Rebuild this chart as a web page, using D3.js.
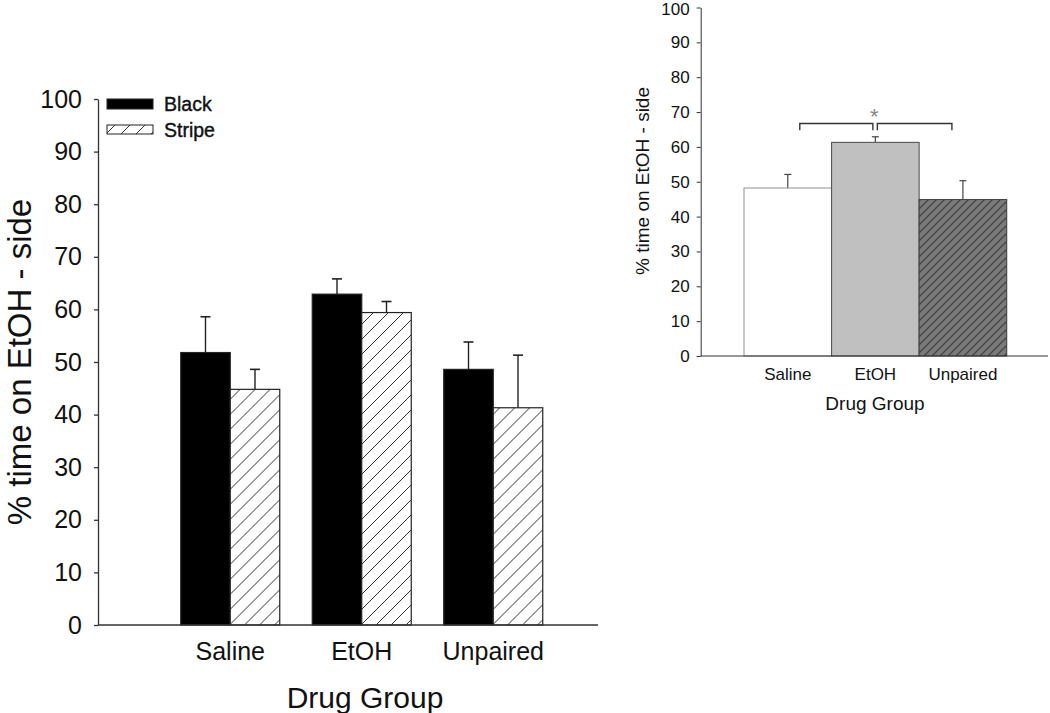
<!DOCTYPE html>
<html>
<head>
<meta charset="utf-8">
<script src="https://cdn.jsdelivr.net/npm/d3@7"></script>
<style>
  html, body { margin: 0; padding: 0; background: #fff; }
  svg { display: block; font-family: "Liberation Sans", Arial, sans-serif; }
</style>
</head>
<body>
<svg id="chart" width="1050" height="713"></svg>
<script>
// ---------- data ----------
const categories = ["Saline", "EtOH", "Unpaired"];
const seriesNames = ["Black", "Stripe"];
const blackMeans = [51.8, 62.9, 48.6];
const blackErr = [6.8, 2.9, 5.2];
const stripeMeans = [44.8, 59.4, 41.3];
const stripeErr = [3.8, 2.1, 10.0];
const yTicks = [0, 10, 20, 30, 40, 50, 60, 70, 80, 90, 100];

const insetMeans = [48.2, 61.3, 44.9];
const insetErr = [3.9, 1.6, 5.4];
const insetBrackets = [["Saline", "EtOH"], ["EtOH", "Unpaired"]];
const insetSigLabel = "*";

const yTitle = "% time on EtOH - side";
const xTitle = "Drug Group";

// ---------- setup ----------
const svg = d3.select("#chart");
const defs = svg.append("defs");

defs.append("pattern")
  .attr("id", "hatchLight").attr("patternUnits", "userSpaceOnUse")
  .attr("width", 15).attr("height", 15)
  .call(p => {
    p.append("rect").attr("width", 15).attr("height", 15).attr("fill", "#fff");
    p.append("path").attr("d", "M-2,17 L17,-2 M-2,2 L2,-2 M13,17 L17,13")
      .attr("stroke", "#333").attr("stroke-width", 1);
  });

defs.append("pattern")
  .attr("id", "hatchDark").attr("patternUnits", "userSpaceOnUse")
  .attr("width", 8).attr("height", 8)
  .call(p => {
    p.append("rect").attr("width", 8).attr("height", 8).attr("fill", "#7a7a7a");
    p.append("path").attr("d", "M-1,9 L9,-1 M-1,1 L1,-1 M7,9 L9,7")
      .attr("stroke", "#444").attr("stroke-width", 1.3);
  });

// ---------- main chart ----------
const main = svg.append("g");
const axisX0 = 98, axisX1 = 598;
const y = d3.scaleLinear().domain([0, 100]).range([625, 99]);
const x0 = d3.scaleBand().domain(categories).range([164.5, 559]).padding(0);
const bw = 49.5;
const x1 = d3.scaleBand().domain(seriesNames)
  .range([x0.bandwidth() / 2 - bw, x0.bandwidth() / 2 + bw]).padding(0);

const rows = categories.map((c, i) => ({
  cat: c,
  vals: [
    { s: "Black", v: blackMeans[i], e: blackErr[i] },
    { s: "Stripe", v: stripeMeans[i], e: stripeErr[i] }
  ]
}));

// y axis
const yAxis = main.append("g").attr("transform", `translate(${axisX0},0)`)
  .call(d3.axisLeft(y).tickValues(yTicks).tickSize(4).tickPadding(12).tickSizeOuter(0));
yAxis.select(".domain").attr("stroke", "#333").attr("stroke-width", 1.3);
yAxis.selectAll(".tick line").attr("stroke", "#333").attr("stroke-width", 1.3);
yAxis.selectAll(".tick text").attr("font-size", 25).attr("fill", "#111")
  .attr("font-family", "Liberation Sans, Arial, sans-serif");

// error bars (behind)
const grp = main.selectAll(".grp").data(rows).join("g")
  .attr("transform", d => `translate(${x0(d.cat)},0)`);

grp.selectAll(".err").data(d => d.vals).join("g").each(function(d) {
  const g = d3.select(this);
  const cx = x1(d.s) + x1.bandwidth() / 2;
  g.append("line").attr("x1", cx).attr("x2", cx)
    .attr("y1", y(d.v)).attr("y2", y(d.v + d.e))
    .attr("stroke", "#222").attr("stroke-width", 1.4);
  g.append("line").attr("x1", cx - 5).attr("x2", cx + 5)
    .attr("y1", y(d.v + d.e)).attr("y2", y(d.v + d.e))
    .attr("stroke", "#222").attr("stroke-width", 1.6);
});

grp.selectAll("rect.bar").data(d => d.vals).join("rect")
  .attr("class", "bar")
  .attr("x", d => x1(d.s))
  .attr("width", x1.bandwidth())
  .attr("y", d => y(d.v))
  .attr("height", d => y(0) - y(d.v))
  .attr("fill", d => d.s === "Black" ? "#000" : "url(#hatchLight)")
  .attr("stroke", "#222").attr("stroke-width", 1.2);

// x axis line
main.append("line").attr("x1", axisX0).attr("x2", axisX1)
  .attr("y1", y(0)).attr("y2", y(0))
  .attr("stroke", "#333").attr("stroke-width", 1.3);

// x tick labels
const xAxisG = main.append("g").attr("transform", `translate(0,${y(0)})`)
  .call(d3.axisBottom(x0).tickSize(0).tickPadding(17));
xAxisG.select(".domain").remove();
xAxisG.selectAll(".tick text").attr("font-size", 25).attr("fill", "#111")
  .attr("font-family", "Liberation Sans, Arial, sans-serif");

// axis titles
main.append("text").attr("x", 365).attr("y", 708)
  .attr("text-anchor", "middle").attr("font-size", 30).attr("fill", "#111")
  .text(xTitle);
main.append("text")
  .attr("transform", `translate(31,${362}) rotate(-90)`)
  .attr("text-anchor", "middle").attr("font-size", 33).attr("fill", "#111")
  .text(yTitle);

// legend
const legend = main.append("g");
seriesNames.forEach((s, i) => {
  const ly = 99 + i * 26;
  legend.append("rect").attr("x", 107).attr("y", ly).attr("width", 46).attr("height", i === 0 ? 10 : 9)
    .attr("fill", i === 0 ? "#000" : "url(#hatchLight)")
    .attr("stroke", "#222").attr("stroke-width", 1);
  legend.append("text").attr("x", 164).attr("y", ly + 12)
    .attr("font-size", 19.5).attr("fill", "#111")
    .attr("stroke", "#111").attr("stroke-width", 0.4)
    .text(s);
});

// ---------- inset chart ----------
const ins = svg.append("g");
const iAxisX0 = 700.7, iAxisX1 = 1048;
const yi = d3.scaleLinear().domain([0, 100]).range([356, 7.5]);
const xi = d3.scaleBand().domain(categories).range([744, 1006.7]).padding(0);

const iyAxis = ins.append("g").attr("transform", `translate(${iAxisX0},0)`)
  .call(d3.axisLeft(yi).tickValues(yTicks).tickSize(4).tickPadding(7).tickSizeOuter(0));
iyAxis.select(".domain").attr("stroke", "#333").attr("stroke-width", 1);
iyAxis.selectAll(".tick line").attr("stroke", "#333");
iyAxis.selectAll(".tick text").attr("font-size", 17).attr("fill", "#111")
  .attr("font-family", "Liberation Sans, Arial, sans-serif")
  .attr("dy", d => d === 100 ? "0.42em" : "0.32em");

const insetRows = categories.map((c, i) => ({ cat: c, v: insetMeans[i], e: insetErr[i] }));
const insetFill = { "Saline": "#fff", "EtOH": "#c0c0c0", "Unpaired": "url(#hatchDark)" };
const insetStroke = { "Saline": "#999", "EtOH": "#555", "Unpaired": "#444" };

ins.selectAll(".ierr").data(insetRows).join("g").each(function(d) {
  const g = d3.select(this);
  const cx = xi(d.cat) + xi.bandwidth() / 2;
  g.append("line").attr("x1", cx).attr("x2", cx)
    .attr("y1", yi(d.v)).attr("y2", yi(d.v + d.e))
    .attr("stroke", "#444").attr("stroke-width", 1.2);
  g.append("line").attr("x1", cx - 3.5).attr("x2", cx + 3.5)
    .attr("y1", yi(d.v + d.e)).attr("y2", yi(d.v + d.e))
    .attr("stroke", "#444").attr("stroke-width", 1.2);
});

ins.selectAll("rect.ibar").data(insetRows).join("rect")
  .attr("class", "ibar")
  .attr("x", d => xi(d.cat))
  .attr("width", xi.bandwidth())
  .attr("y", d => yi(d.v))
  .attr("height", d => yi(0) - yi(d.v))
  .attr("fill", d => insetFill[d.cat])
  .attr("stroke", d => insetStroke[d.cat]).attr("stroke-width", 1.1);

ins.append("line").attr("x1", iAxisX0).attr("x2", iAxisX1)
  .attr("y1", yi(0)).attr("y2", yi(0))
  .attr("stroke", "#333").attr("stroke-width", 1);

const ixAxis = ins.append("g").attr("transform", `translate(0,${yi(0)})`)
  .call(d3.axisBottom(xi).tickSize(0).tickPadding(12));
ixAxis.select(".domain").remove();
ixAxis.selectAll(".tick text").attr("font-size", 17).attr("fill", "#111")
  .attr("font-family", "Liberation Sans, Arial, sans-serif");

ins.append("text").attr("x", 875).attr("y", 410)
  .attr("text-anchor", "middle").attr("font-size", 19).attr("fill", "#111")
  .text(xTitle);
ins.append("text")
  .attr("transform", `translate(649,181) rotate(-90)`)
  .attr("text-anchor", "middle").attr("font-size", 19).attr("fill", "#111")
  .text(yTitle);

// significance brackets
const brY = yi(66.7), brDrop = yi(64.8);
const centerOf = c => xi(c) + xi.bandwidth() / 2;
insetBrackets.forEach(([a, b], i) => {
  const xa = i === 0 ? centerOf(a) + 12 : centerOf(a) + 2;
  const xb = i === 0 ? centerOf(b) - 2.5 : centerOf(b) - 11;
  ins.append("path")
    .attr("d", `M${xa},${brDrop} V${brY} H${xb} V${brDrop}`)
    .attr("fill", "none").attr("stroke", "#333").attr("stroke-width", 1.4);
});
ins.append("text").attr("x", centerOf("EtOH") - 1).attr("y", brY + 13)
  .attr("text-anchor", "middle").attr("font-size", 22).attr("fill", "#888")
  .attr("dy", "-0.55em")
  .text(insetSigLabel);
</script>
</body>
</html>
